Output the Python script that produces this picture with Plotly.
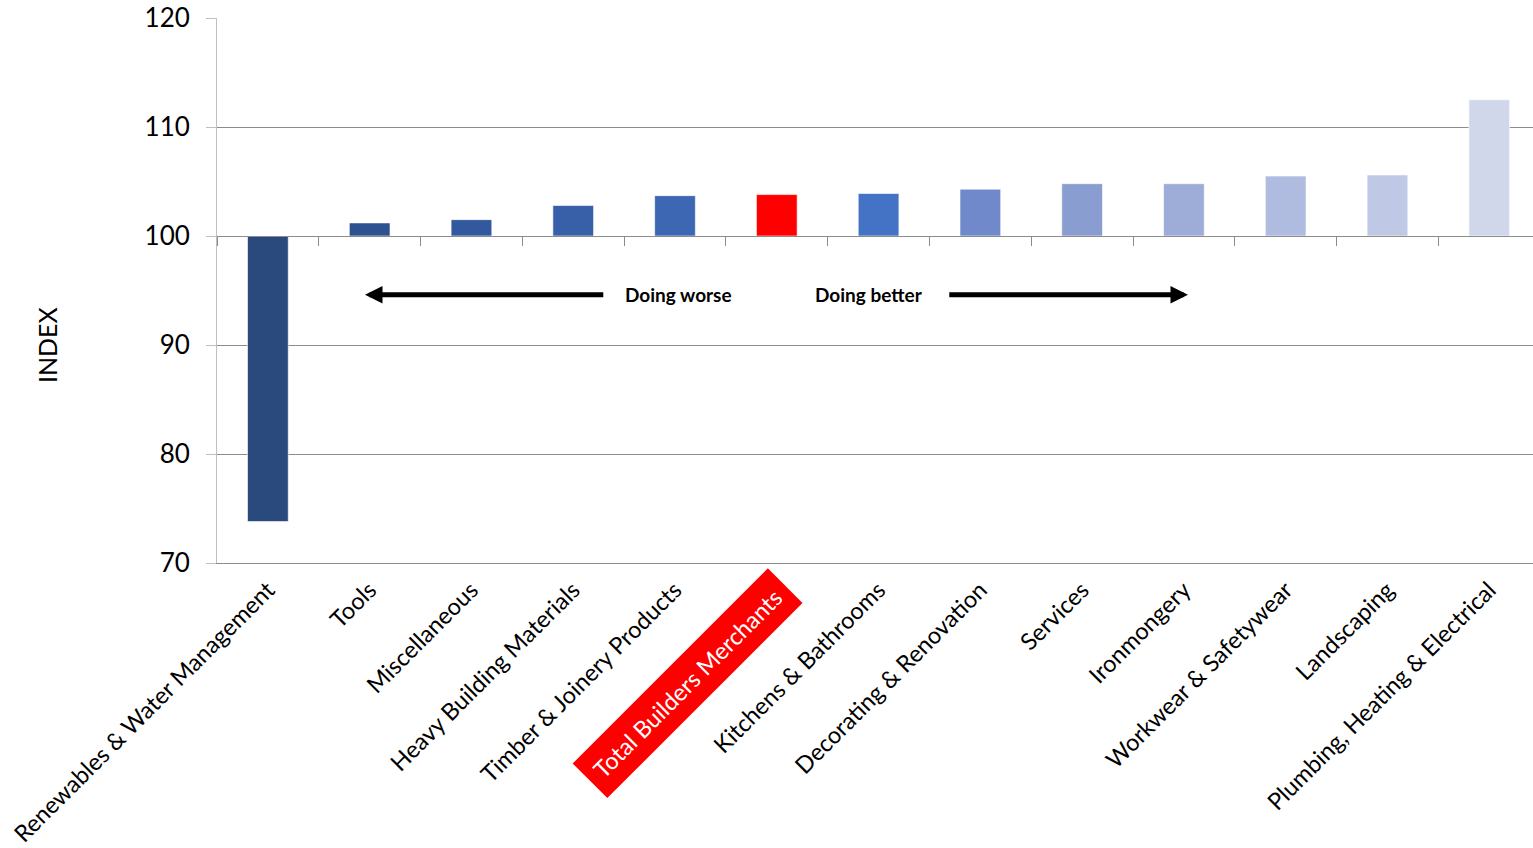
import plotly.graph_objects as go

categories = [
    "Renewables & Water Management", "Tools", "Miscellaneous", "Heavy Building Materials",
    "Timber & Joinery Products", "Total Builders Merchants", "Kitchens & Bathrooms",
    "Decorating & Renovation", "Services", "Ironmongery", "Workwear & Safetywear",
    "Landscaping", "Plumbing, Heating & Electrical",
]
values = [73.8, 101.2, 101.5, 102.8, 103.7, 103.8, 103.9, 104.3, 104.8, 104.8, 105.5, 105.6, 112.5]
colors = ["#2A4A7E", "#2E5190", "#32599E", "#3760A9", "#3D67B3", "#FF0000", "#4472C4",
          "#6F89CB", "#8A9DD1", "#9DADD8", "#AFBCDF", "#BFC9E5", "#D0D7EB"]
highlight = "Total Builders Merchants"
base_value = 100

FONT = "Lato, 'Open Sans', sans-serif"
GRID = "#8C8C8C"
AXIS = "#BFBFBF"

fig = go.Figure()
fig.add_trace(go.Bar(
    x=categories, y=[v - base_value for v in values], base=base_value,
    marker=dict(color=colors, line=dict(color="rgba(255,255,255,0.6)", width=1)),
    width=0.4, xaxis="x", yaxis="y", hoverinfo="skip",
))
# invisible trace for the category axis drawn at the 100 baseline
fig.add_trace(go.Scatter(
    x=categories, y=[base_value] * len(categories), mode="markers",
    marker=dict(opacity=0), xaxis="x2", yaxis="y", hoverinfo="skip", showlegend=False,
))

ticktext = ["" if c == highlight else c for c in categories]

fig.update_layout(
    width=1533, height=848,
    margin=dict(l=217, r=0, t=18, b=285, autoexpand=False),
    plot_bgcolor="white", paper_bgcolor="white",
    showlegend=False,
    font=dict(family=FONT, color="#000000"),
    xaxis=dict(
        type="category", tickmode="array", tickvals=categories, ticktext=ticktext,
        tickangle=-45, tickfont=dict(size=23.5, family=FONT, color="#000"),
        ticklabelstandoff=3, automargin=False,
        showline=True, linecolor=GRID, linewidth=1, ticks="", showgrid=False,
        range=[-0.5, 12.43],
    ),
    xaxis2=dict(
        type="category", overlaying="x", matches="x", anchor="free",
        position=(base_value - 70) / (120 - 70), side="bottom",
        showline=True, linecolor=GRID, linewidth=1,
        ticks="outside", ticklen=9, tickcolor=GRID, tickson="boundaries",
        showticklabels=False, showgrid=False, automargin=False,
    ),
    yaxis=dict(
        range=[70, 120], dtick=10, tick0=70,
        showgrid=True, gridcolor=GRID, gridwidth=1,
        showline=True, linecolor=AXIS, linewidth=1,
        ticks="outside", ticklen=10, tickcolor=AXIS,
        tickfont=dict(size=26, family=FONT, color="#000"),
        ticklabelstandoff=11, automargin=False,
        zeroline=False,
    ),
)

annotations = []
# y-axis title
annotations.append(dict(
    text="INDEX", xref="paper", yref="paper", x=0, y=0.40, xshift=-170,
    xanchor="center", yanchor="middle", textangle=-90, showarrow=False,
    font=dict(size=25, family=FONT, color="#000"),
))
# highlighted category label
hi = categories.index(highlight)
annotations.append(dict(
    text=highlight, xref="x", yref="paper", x=hi, y=0, xshift=-89, yshift=-120,
    xanchor="center", yanchor="middle", textangle=-45, showarrow=False,
    bgcolor="#FF0000", borderpad=10,
    font=dict(size=23.5, family=FONT, color="#FFFFFF"),
))
# direction arrows and labels
arrow_y = 94.6
annotations.append(dict(
    x=0.954, y=arrow_y, ax=3.31, ay=arrow_y, xref="x", yref="y", axref="x", ayref="y",
    text="", showarrow=True, arrowhead=2, arrowsize=0.7, arrowwidth=5, arrowcolor="#000",
    standoff=0, startstandoff=0,
))
annotations.append(dict(
    x=9.04, y=arrow_y, ax=6.68, ay=arrow_y, xref="x", yref="y", axref="x", ayref="y",
    text="", showarrow=True, arrowhead=2, arrowsize=0.7, arrowwidth=5, arrowcolor="#000",
    standoff=0, startstandoff=0,
))
annotations.append(dict(
    text="<b>Doing worse</b>", x=4.03, y=arrow_y, xref="x", yref="y", showarrow=False,
    xanchor="center", yanchor="middle", font=dict(size=19, family=FONT, color="#000"),
))
annotations.append(dict(
    text="<b>Doing better</b>", x=5.91, y=arrow_y, xref="x", yref="y", showarrow=False,
    xanchor="center", yanchor="middle", font=dict(size=19, family=FONT, color="#000"),
))
fig.update_layout(annotations=annotations)

fig.write_html("out.html")
